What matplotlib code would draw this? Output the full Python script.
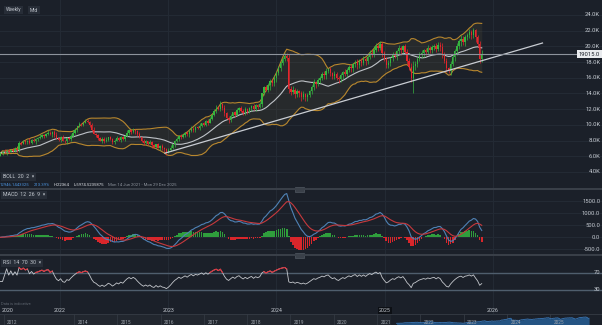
import numpy as np
import pandas as pd
import matplotlib
matplotlib.use("Agg")
import matplotlib.pyplot as plt
import matplotlib.dates as mdates
from matplotlib.patches import Rectangle
from datetime import datetime

W, H = 602, 325
BG = "#1b2029"
GRID = "#242b35"
TXT = "#c3c8cf"
UP = "#35b53f"
DOWN = "#e5262c"

# ---- weekly closes (thousands) ----
closes_k = [
    6.4, 6.6, 6.5, 6.7, 6.6, 6.8, 6.7, 6.9, 6.8,
    7.7, 7.6, 7.9, 7.8, 8.0, 7.7, 8.1, 7.9, 8.2, 8.3,
    8.5, 8.7, 8.6, 8.9, 9.0, 8.8, 9.1, 8.7,
    8.3,
    8.1, 8.4, 8.0, 7.9, 8.3, 8.2, 8.6,
    9.0, 9.4, 9.8, 10.1, 10.0,
    10.3, 10.5, 10.4,
    10.0, 9.4, 8.9, 8.7,
    8.3, 8.0, 8.2, 7.9, 8.1, 8.4, 8.2, 7.8, 8.0, 8.3, 8.1, 8.4, 8.2, 8.6,
    9.0, 9.3, 9.1, 9.4, 9.2,
    8.8, 8.4, 8.0, 7.7, 7.9, 7.6, 7.8,
    7.4, 7.2, 7.5, 7.1, 7.3, 7.0, 6.9,
    6.6, 6.8, 7.1,
    7.5, 7.9, 8.2, 8.6, 8.4, 8.7, 9.0, 8.8, 9.2, 9.5, 9.3, 9.7, 9.6,
    9.9, 10.2, 10.0, 10.5, 10.3, 10.8,
    11.3, 11.8, 12.2, 12.0, 12.7,
    12.2, 11.5, 10.9, 10.6, 11.1,
    11.6, 11.3, 11.9, 12.2, 11.8, 11.5, 12.0, 11.7,
    12.1, 12.4, 12.0, 12.5, 12.3, 12.6,
    14.0, 14.8,
    14.5, 15.1, 15.6, 15.3, 16.0, 16.6,
    17.3, 17.9, 18.4, 18.8, 18.5,
    14.6,
    14.2, 14.5, 13.9, 14.3, 14.0, 13.6, 13.9, 13.5, 13.8,
    14.3, 14.8, 15.4, 15.2, 15.7,
    16.0, 16.5, 16.3, 16.9, 17.1,
    16.6, 16.2, 16.5, 16.0, 15.8,
    16.3, 16.7, 16.5, 17.0, 17.4, 17.2, 17.7, 18.0,
    17.6, 18.2, 17.9, 18.4, 18.1,
    18.7, 19.2, 19.0, 19.6, 20.1, 19.8,
    20.3,
    19.2, 18.4, 17.6, 17.9,
    18.5, 19.0, 18.8, 19.4,
    19.8, 19.5, 20.0, 19.3,
    18.2, 17.4, 16.0, 17.5,
    17.8, 18.4, 18.9, 19.2,
    19.5, 19.3, 19.8, 19.6, 19.9,
    20.1, 19.7, 20.2, 19.9,
    18.9, 18.2,
    17.2, 16.9,
    17.8, 18.6, 19.4, 20.1, 20.7,
    21.0, 20.6, 21.2, 21.4,
    21.8, 21.5, 22.064,
    21.2, 20.3, 18.4,
    19.015,
]

# upper / lower shadow beyond the body (tenths of a thousand)
hi_ext = [
    2, 1, 3, 1, 2, 1, 2, 3, 1, 2,
    1, 2, 2, 1, 3, 1, 2, 1, 2, 3,
    1, 2, 1, 3, 2, 1, 2, 4, 1, 2,
    3, 1, 2, 1, 2, 3, 2, 1, 3, 2,
    1, 3, 2, 1, 2, 3, 1, 2, 1, 2,
    2, 3, 1, 2, 1, 2, 3, 1, 2, 2,
    1, 3, 2, 1, 2, 1, 2, 3, 1, 2,
    2, 1, 3, 1, 2, 1, 2, 1, 3, 2,
    1, 2, 3, 1, 2, 2, 1, 3, 2, 1,
    2, 1, 3, 2, 1, 2, 3, 1, 2, 1,
    3, 2, 1, 2, 3, 2, 4, 1, 3, 2,
    2, 3, 1, 2, 3, 1, 2, 2, 3, 1,
    2, 1, 3, 2, 2, 3, 1, 2, 3, 2,
    3, 2, 4, 3, 2, 3, 2, 4, 3, 5,
    3, 4, 2, 3, 2, 3, 4, 2, 3, 2,
    3, 4, 2, 3, 2, 3, 4, 3, 2, 3,
    2, 4, 3, 2, 3, 2, 4, 3, 2, 3,
    2, 3, 4, 2, 3, 4, 3, 2, 4, 3,
    5, 3, 2, 4, 3, 2, 3, 4, 2, 3,
    3, 2, 4, 3, 2, 3, 4, 3, 5, 6,
    3, 2, 4, 3, 2, 3, 4, 2, 3, 2,
    3, 4, 3, 5, 4, 3, 2, 3, 4, 3,
    3, 2, 4, 3, 2, 3, 4, 3, 3, 1,
    3, 4, 5,
]
lo_ext = [
    1, 2, 1, 3, 2, 1, 2, 1, 3, 2,
    2, 1, 3, 2, 1, 2, 1, 3, 2, 1,
    2, 3, 1, 2, 1, 3, 2, 1, 2, 3,
    1, 2, 3, 1, 2, 1, 2, 3, 1, 2,
    2, 1, 2, 3, 2, 1, 3, 2, 1, 3,
    2, 1, 2, 1, 3, 2, 1, 2, 3, 1,
    2, 1, 3, 2, 1, 3, 2, 1, 2, 3,
    1, 2, 1, 3, 2, 2, 1, 3, 2, 3,
    4, 2, 1, 2, 3, 1, 2, 2, 1, 3,
    2, 3, 1, 2, 2, 1, 3, 2, 1, 2,
    3, 1, 2, 2, 3, 1, 2, 3, 4, 2,
    3, 2, 1, 3, 2, 3, 1, 2, 2, 3,
    2, 3, 1, 2, 3, 2, 3, 2, 2, 3,
    6, 3, 4, 5, 3, 4, 3, 2, 4, 6,
    4, 3, 5, 3, 4, 5, 3, 4, 5, 3,
    4, 3, 5, 3, 4, 3, 5, 4, 3, 4,
    3, 4, 3, 5, 3, 4, 3, 4, 3, 5,
    4, 3, 5, 3, 4, 3, 5, 4, 3, 4,
    4, 3, 4, 3, 5, 3, 4, 3, 4, 3,
    3, 5, 4, 6, 4, 3, 5, 4, 6, 19,
    5, 4, 3, 4, 6, 4, 3, 5, 4, 3,
    4, 3, 5, 4, 3, 4, 3, 5, 3, 4,
    5, 4, 6, 4, 5, 4, 3, 5, 4, 6,
    4, 5, 4,
]
first_open = 6074.52
start_date = "2021-06-14"
last_price = 19015.0

# trend line anchors
trend_dates = ["2022-12-21", "2026-06-17"]
trend_prices = [6400, 20430]

price_ticks = [4000, 6000, 8000, 10000, 12000, 14000, 16000, 18000, 20000, 22000, 24000]
macd_ticks = [-500, 0, 500, 1000, 1500]
rsi_levels = [30, 70]
axis_years = [2022, 2023, 2024, 2025, 2026]
nav_years = [2014, 2015, 2016, 2017, 2018, 2019, 2020, 2021, 2022, 2023, 2024, 2025]

info_parts = [
    ("12946.1443325", "#4a90d9"),
    ("213.39%", "#4a90d9"),
    ("H:22364", "#d8dbe0"),
    ("L:5974.5235875", "#d8dbe0"),
    ("Mon 14 Jun 2021 - Mon 29 Dec 2025", "#8a9099"),
]

plt.rcParams["font.family"] = ["Roboto", "DejaVu Sans"]

# ---- series ----
dates = pd.date_range(start_date, periods=len(closes_k), freq="7D")
xd = mdates.date2num(dates)
close = np.array(closes_k) * 1000.0
open_ = np.r_[first_open, close[:-1]]
high = np.maximum(open_, close) + np.array(hi_ext) * 100.0
low = np.minimum(open_, close) - np.array(lo_ext) * 100.0

s = pd.Series(close)
mid = s.rolling(20, min_periods=1).mean()
sd = s.rolling(20, min_periods=1).std(ddof=0)
upper = mid + 2 * sd
lower = mid - 2 * sd

ema12 = s.ewm(span=12, adjust=False).mean()
ema26 = s.ewm(span=26, adjust=False).mean()
macd = ema12 - ema26
signal = macd.ewm(span=9, adjust=False).mean()
hist = macd - signal

delta = s.diff().fillna(0)
gain = delta.clip(lower=0)
loss = -delta.clip(upper=0)
avg_g = gain.ewm(alpha=1 / 14, adjust=True).mean()
avg_l = loss.ewm(alpha=1 / 14, adjust=True).mean()
rsi = (100 - 100 / (1 + avg_g / avg_l.replace(0, np.nan))).fillna(50)

# ---- layout ----
fig = plt.figure(figsize=(W / 100, H / 100), dpi=100)
fig.patch.set_facecolor(BG)


def band(top, bottom):
    return [0, 1 - bottom / H, 1, (bottom - top) / H]


ax = fig.add_axes(band(0, 189))
axm = fig.add_axes(band(189, 255), sharex=ax)
axr = fig.add_axes(band(255, 307), sharex=ax)
axt = fig.add_axes(band(307, 314), sharex=ax)
axn = fig.add_axes(band(314, 325))

for a in (ax, axm, axr, axt, axn):
    a.set_facecolor(BG)
    for sp in a.spines.values():
        sp.set_visible(False)
    a.tick_params(left=False, bottom=False, labelleft=False, labelbottom=False)

ref = mdates.date2num(datetime(2022, 1, 1))
dpp = (mdates.date2num(datetime(2026, 1, 1)) - ref) / 433.0
ax.set_xlim(ref - 60 * dpp, ref + 542 * dpp)

year_x = [mdates.date2num(datetime(y, 1, 1)) for y in axis_years]
for a in (ax, axm, axr, axt):
    for xv in year_x:
        a.axvline(xv, color=GRID, lw=0.7, zorder=0)

# ---- price panel ----
ax.set_ylim(1830, 25910)
for p in price_ticks:
    ax.axhline(p, color=GRID, lw=0.7, zorder=0)
    ax.text(0.997, p, f"{p/1000:.1f}K", transform=ax.get_yaxis_transform(),
            ha="right", va="center", fontsize=4.2, color=TXT)

ax.fill_between(xd, lower, upper, color="#6b6240", alpha=0.16, lw=0, zorder=1)
ax.plot(xd, upper, color="#b8872e", lw=0.8, zorder=2)
ax.plot(xd, lower, color="#b8872e", lw=0.8, zorder=2)
ax.plot(xd, mid, color="#bfc3c8", lw=0.8, zorder=2)

cols = np.where(close >= open_, UP, DOWN)
ax.vlines(xd, low, high, colors=cols, lw=0.5, zorder=3)
body = np.maximum(np.abs(close - open_), 40)
ax.bar(xd, body, bottom=np.minimum(open_, close), width=4.6, color=cols,
       lw=0, zorder=4)

ax.plot(mdates.date2num(pd.to_datetime(trend_dates)), trend_prices,
        color="#c9cdd3", lw=0.9, zorder=5)
ax.axhline(last_price, color="#8d939c", lw=0.8, zorder=5)
ax.text(0.997, last_price, f"{last_price:.1f}", transform=ax.get_yaxis_transform(),
        ha="right", va="center", fontsize=4.2, color="#1b2029", zorder=6,
        bbox=dict(boxstyle="square,pad=0.25", fc="#e9ebee", ec="none"))

# ---- MACD panel ----
axm.set_ylim(-737, 2012)
for v in macd_ticks:
    axm.axhline(v, color=GRID, lw=0.7, zorder=0)
    axm.text(0.997, v, f"{v:.1f}", transform=axm.get_yaxis_transform(),
             ha="right", va="center", fontsize=4.2, color=TXT)
hcols = np.where(hist >= 0, "#2f9e3c", "#d9262b")
axm.bar(xd, hist, width=5.5, color=hcols, lw=0, zorder=2)
axm.plot(xd, macd, color="#4f82b5", lw=0.8, zorder=3)
axm.plot(xd, signal, color="#c6393d", lw=0.8, zorder=3)

# ---- RSI panel ----
axr.set_ylim(-10, 112.35)
for v in rsi_levels:
    axr.axhline(v, color="#4f5e6d", lw=1.0, zorder=1)
    axr.text(0.997, v, f"{v}", transform=axr.get_yaxis_transform(),
             ha="right", va="center", fontsize=4.2, color=TXT)
axr.plot(xd, rsi, color="#c4c7cc", lw=0.6, zorder=2)
axr.plot(xd, np.where(rsi >= 70, rsi, np.nan), color="#e0303a", lw=0.8, zorder=3)

# ---- time labels ----
for y, xv in zip(axis_years, year_x):
    kw = {}
    if y == 2025:
        kw["bbox"] = dict(boxstyle="square,pad=0.2", fc="#0d1015", ec="none")
    axt.text(xv, 0.45, str(y), transform=axt.get_xaxis_transform(),
             ha="center", va="center", fontsize=3.8, color=TXT, **kw)
axt.text(0.002, 0.45, "2020", transform=axt.transAxes, ha="left", va="center",
         fontsize=3.8, color=TXT)

# ---- navigator ----
nav_ref = mdates.date2num(datetime(2014, 1, 1))
ppy = 43.3
axn.set_xlim(nav_ref - 74 / ppy * 365.25, nav_ref + (602 - 74) / ppy * 365.25)
axn.set_ylim(2300, 29400)
axn.add_patch(Rectangle((0, 0), 391 / W, 1, transform=axn.transAxes,
                        fc="#22272f", ec="none", zorder=0))
axn.axhline(29400, color="#363c45", lw=1.2)
for y in nav_years:
    xv = mdates.date2num(datetime(y, 1, 1))
    axn.axvline(xv, color="#30363f", lw=0.7, zorder=1)
    axn.text(xv + 0.08 * 365, 0.2, str(y), transform=axn.get_xaxis_transform(),
             ha="left", va="center", fontsize=3.4, color="#9aa0a8", zorder=3)
axn.axvline(axn.get_xlim()[0] + 4 / ppy * 365.25, color="#30363f", lw=0.7)
axn.text(0.012, 0.2, "2012", transform=axn.transAxes, ha="left", va="center",
         fontsize=3.4, color="#9aa0a8", zorder=3)
axn.fill_between(xd, close, 2300, color="#245483", lw=0, zorder=2)
axn.plot(xd, close, color="#3a78b8", lw=0.6, zorder=2)

# ---- separators and handles ----
for ypx in (189, 255):
    fig.add_artist(plt.Line2D([0, 1], [1 - ypx / H] * 2, color="#3a4049", lw=1.4))
    fig.add_artist(Rectangle((295 / W, 1 - (ypx + 2.5) / H), 9 / W, 5 / H,
                             fc="#3a4049", ec="#5a616b", lw=0.4))


def ftext(xpx, ypx, s, **kw):
    return fig.text(xpx / W, 1 - ypx / H, s, va="center", **kw)


box = dict(boxstyle="square,pad=0.35", fc="#272d37", ec="none")
ftext(6, 10, "Weekly", fontsize=3.5, color=TXT, bbox=box)
ftext(30, 10, "Mid", fontsize=3.5, color=TXT, bbox=box)
ftext(3, 177, "BOLL  20  2  \u00d7", fontsize=3.8, color=TXT, bbox=box)
ftext(3, 195, "MACD  12  26  9  \u00d7", fontsize=3.8, color=TXT, bbox=box)
ftext(3, 263, "RSI  14  70  30  \u00d7", fontsize=3.8, color=TXT, bbox=box)

# info line laid out left to right
renderer = fig.canvas.get_renderer()
xpos = 0.0
for txt, colr in info_parts:
    t = ftext(xpos, 184.5, txt, fontsize=3.1, color=colr)
    bb = t.get_window_extent(renderer)
    xpos = bb.x1 + 4
ftext(1, 304, "Data is indicative", fontsize=2.9, color="#5d646e")

fig.savefig("out.png", dpi=100, facecolor=BG)
